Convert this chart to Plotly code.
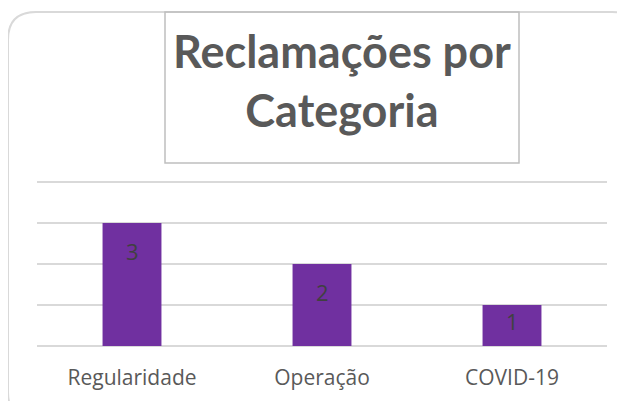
import plotly.graph_objects as go

categories = ["Regularidade", "Operação", "COVID-19"]
values = [3, 2, 1]
title_text = "Reclamações por<br>Categoria"

# browser body margin offset
O = 8
W, H = 625 - O, 401 - O
PL, PT, PR, PB = 37, 178, 607, 346  # plot area in page pixels
UNIT = 41  # pixels per unit on the value axis
L, T, R, B = PL - O, PT - O, W - (PR - O), H - (PB - O)
PW, PH = W - L - R, H - T - B

def px(x):
    return (x - O - L) / PW

def py(y):
    return (H - B - (y - O)) / PH

fig = go.Figure()
fig.add_trace(go.Bar(
    x=categories, y=values, width=0.31,
    marker=dict(color="#7030A0", line=dict(width=0)),
    hoverinfo="skip",
))

# data labels
for c, v in zip(categories, values):
    fig.add_annotation(x=c, y=max(v - 0.68, v / 2 + 0.12), text=str(v), showarrow=False,
                       font=dict(family="Open Sans", size=22, color="#404040"),
                       xref="x", yref="y", yanchor="middle")

# card with rounded corners
x0, y0, x1, y1, r = 8, 12, 640, 420, 28
def pt(x, y):
    return f"{px(x)},{py(y)}"
path = (f"M {pt(x0, y0 + r)} Q {pt(x0, y0)} {pt(x0 + r, y0)} L {pt(x1 - r, y0)} "
        f"Q {pt(x1, y0)} {pt(x1, y0 + r)} L {pt(x1, y1 - r)} Q {pt(x1, y1)} {pt(x1 - r, y1)} "
        f"L {pt(x0 + r, y1)} Q {pt(x0, y1)} {pt(x0, y1 - r)} Z")
fig.add_shape(type="path", path=path, xref="paper", yref="paper",
              line=dict(color="#d9d9d9", width=2), layer="below")

# title box
fig.add_shape(type="rect", xref="paper", yref="paper",
              x0=px(165), x1=px(519), y0=py(163), y1=py(12),
              line=dict(color="#bfbfbf", width=1.5))

fig.add_annotation(text="<b>" + title_text + "</b>", xref="paper", yref="paper",
                   x=px(342), y=py(80), xanchor="center", yanchor="middle", showarrow=False,
                   font=dict(family="Lato", size=45, color="#595959"))

fig.update_layout(
    width=W, height=H, margin=dict(l=L, r=R, t=T, b=B, autoexpand=False),
    paper_bgcolor="white", plot_bgcolor="white", showlegend=False,
    xaxis=dict(showgrid=False, showline=False, ticks="", ticklabelstandoff=17,
               automargin=False,
               tickfont=dict(family="Open Sans", size=21, color="#595959")),
    yaxis=dict(range=[0, (PB - PT) / UNIT], tickvals=[0, 1, 2, 3, 4], showticklabels=False,
               automargin=False,
               gridcolor="#d9d9d9", gridwidth=1.5, zeroline=True, zerolinecolor="#d9d9d9",
               zerolinewidth=1.5, showline=False, fixedrange=True),
)

fig.write_html("out.html")
